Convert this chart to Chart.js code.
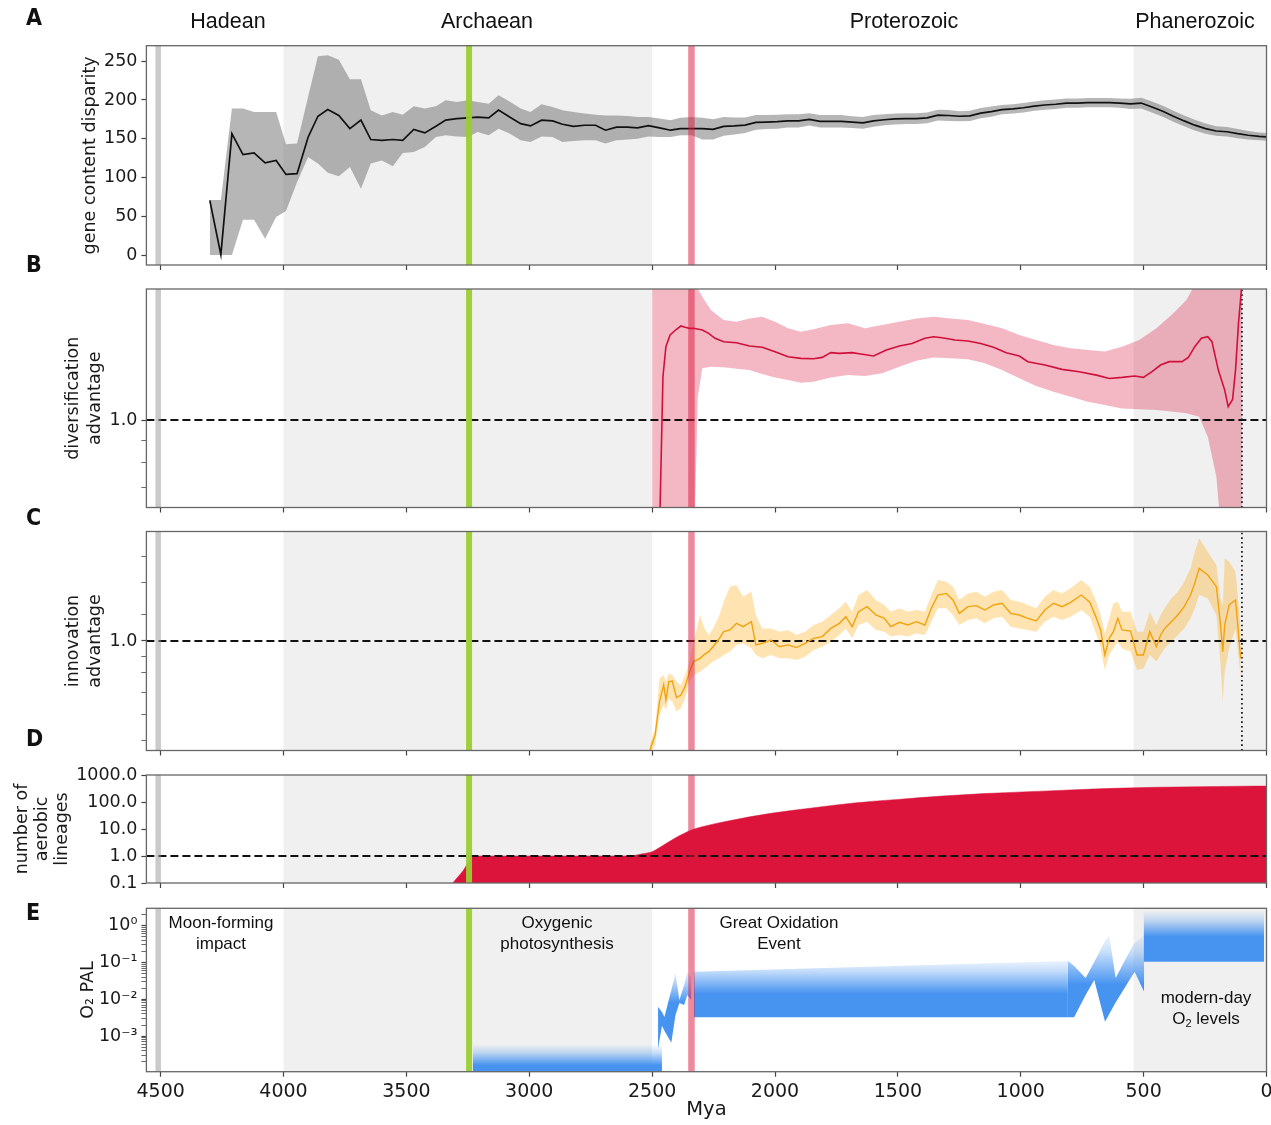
<!DOCTYPE html>
<html lang="en">
<head>
<meta charset="UTF-8">
<title>Aerobic lineages through Earth history</title>
<script src="https://cdn.jsdelivr.net/npm/chart.js"></script>
<style>
  body { margin: 0; background: #fff; }
  #page { position: relative; width: 1271px; height: 1125px; overflow: hidden;
          font-family: 'Liberation Sans', Arial, sans-serif; color: #111; }
  canvas { position: absolute; left: 0; }
  .era { position: absolute; top: 10.5px; font-size: 21.5px; line-height: 1; transform: translateX(-50%); white-space: nowrap; }
  .letter { position: absolute; left: 26px; font-family: 'Liberation Sans Narrow', 'DejaVu Sans Condensed', sans-serif;
            font-weight: bold; font-size: 23px; line-height: 1; }
  .note { position: absolute; font-size: 17px; line-height: 21px; text-align: center; transform: translateX(-50%); white-space: nowrap; }
  .note sub { font-size: 11px; vertical-align: -3px; line-height: 0; }
</style>
</head>
<body>
<div id="page">
  <canvas id="cA" width="1271" height="275" style="top:0px"></canvas>
  <canvas id="cB" width="1271" height="242" style="top:276px"></canvas>
  <canvas id="cC" width="1271" height="242" style="top:519px"></canvas>
  <canvas id="cD" width="1271" height="132" style="top:762px"></canvas>
  <canvas id="cE" width="1271" height="230" style="top:895px"></canvas>

  <div class="era" style="left:228px">Hadean</div>
  <div class="era" style="left:487px">Archaean</div>
  <div class="era" style="left:904px">Proterozoic</div>
  <div class="era" style="left:1195px">Phanerozoic</div>

  <div class="letter" style="top:5.5px">A</div>
  <div class="letter" style="top:253px">B</div>
  <div class="letter" style="top:505.8px">C</div>
  <div class="letter" style="top:726.8px">D</div>
  <div class="letter" style="top:900.5px">E</div>

  <div class="note" style="left:221px; top:912px">Moon-forming<br>impact</div>
  <div class="note" style="left:557px; top:912px">Oxygenic<br>photosynthesis</div>
  <div class="note" style="left:779px; top:912px">Great Oxidation<br>Event</div>
  <div class="note" style="left:1206px; top:987px">modern-day<br>O<sub>2</sub> levels</div>
</div>

<script>
// ---- shared time axis (million years ago) ----
const X_MAX = 4558;
const xTicks = [4500, 4000, 3500, 3000, 2500, 2000, 1500, 1000, 500, 0];
const shadeFrom = [4000, 541];
const shadeTo = [2500, 0];
const eventMya = [4510, 3245, 2340];           // moon-forming impact, oxygenic photosynthesis, GOE
const refLevel = 1.0;
const cutoffMya = 100;

// ---- A: gene content disparity ----
const aMya = [4300,4255,4210,4165,4120,4075,4030,3990,3945,3900,3860,3820,3775,3730,3685,3645,3600,3555,3515,3470,
  3425,3380,3340,3295,3250,3210,3165,3125,3080,3035,2995,2950,2905,2865,2820,2775,2730,2690,2645,2600,2560,2515,2470,
  2425,2385,2340,2296,2252,2209,2165,2122,2078,2035,1991,1947,1904,1860,1817,1773,1730,1686,1642,1599,1555,1512,1468,
  1425,1381,1337,1294,1250,1207,1163,1120,1076,1032,989,945,902,858,814,771,727,684,640,597,553,510,466,422,379,335,
  292,248,205,161,117,74,30,0];
const aMean = [70.6,0.5,156.6,129.5,131.7,118.8,122,104,105,152,179,187.6,180,163,174,149,148,149,148,162,
  157.5,166,174,176,177,178,177,187,178,169.5,166.5,174,173,168.7,166,167.4,167.4,161,165,165,164,167,164,
  161,163,163,163,162,166,166.5,167.5,171,171.5,172,173,173,175,172.5,172.5,172.5,171.5,170.5,173,174.5,175.5,176,
  176,177,180.5,180,179,179.5,183,185,187.5,188.5,190,192,193.5,194.5,196,196,196.5,196.5,196.5,196,195,196,191,185.5,179,173,
  167.5,163,160,159,156.5,154.5,153,152.5];
const aUpper = [71,71,189,189,184.6,184.6,184.6,143,143.7,204,256.5,257.7,252,226.8,226.8,186.7,180,184.6,181,192,
  189,192,199.7,197.5,199.7,197.5,195,206,198,189,184.6,194.5,191,186.7,184.6,182.4,181,180,180,179.4,178,178,176,
  174,177,178,177,175,178,177.5,177.5,180.5,180.5,181,181.5,181.5,183,180.5,180.5,180.5,179,178,180.5,181.5,182.5,183,
  183,184,187.5,187,185.5,186,189.5,191.5,193.5,194.5,196,198,199.5,200.5,202,202,202.5,202.5,202.5,202,201.5,203,198,192.5,186,180,
  174.5,169.5,166,165,162.5,160,158,157.5];
const aLower = [0,0,0,45.6,45.6,21,49,56.8,94,126.5,118,106,101.5,113.6,85.6,118,122,114.5,131.7,133,
  139.4,152.3,154.5,153,152.3,158.8,154.5,163,156.6,148,145.9,153,152.3,145.9,147,148,148,143.7,148,149,150,153,152.3,
  152.3,154.5,154.5,149,149,154,155.5,157.5,161.5,162.5,163,164.5,164.5,167,164.5,164.5,164.5,164,163,165.5,167.5,168.5,169,
  169,170,173.5,173,172.5,173,176.5,178.5,181.5,182.5,184,186,187.5,188.5,190,190,190.5,190.5,190.5,190,188.5,189,184,178.5,172,166,
  160.5,156.5,154,153,150.5,149,148,147.5];
const aTicks = [0, 50, 100, 150, 200, 250];

// ---- B: diversification advantage ----
const bMya = [2470,2456,2444,2427,2401,2383,2366,2348,2331,2296,2270,2244,2209,2157,2104,2052,2000,1947,1895,1843,
  1808,1773,1738,1686,1651,1599,1547,1494,1442,1390,1355,1320,1268,1215,1163,1111,1059,1006,971,902,832,762,692,640,
  588,536,501,466,431,396,344,318,292,265,239,222,196,170,156,138,126,114,100];
const bMean = [0.55,1.256,1.472,1.565,1.613,1.641,1.63,1.621,1.621,1.607,1.579,1.538,1.511,1.503,1.477,1.467,1.433,1.396,1.384,1.381,
  1.391,1.426,1.421,1.426,1.416,1.401,1.446,1.477,1.497,1.538,1.551,1.543,1.524,1.516,1.497,1.467,1.426,1.401,1.36,1.336,1.306,1.29,1.267,1.245,
  1.252,1.261,1.252,1.29,1.336,1.36,1.36,1.391,1.472,1.538,1.551,1.511,1.301,1.171,1.073,1.115,1.301,1.664,2.05];
const bBandMya = [2500,2470,2400,2330,2314,2296,2261,2209,2157,2104,2052,2000,1947,1895,1843,1773,1703,1634,1564,1494,
  1425,1355,1285,1215,1146,1076,1006,937,867,797,727,658,588,518,448,379,326,300,274,239,204,178,140,100];
const bUpper = [2.5,2.5,2.5,2.5,2.0,1.915,1.785,1.693,1.679,1.708,1.723,1.679,1.621,1.593,1.613,1.65,1.664,1.621,1.65,1.679,
  1.708,1.723,1.708,1.693,1.659,1.621,1.565,1.524,1.484,1.459,1.446,1.434,1.472,1.524,1.621,1.754,1.882,2.0,2.5,2.5,2.5,2.5,2.5,2.5];
const bLower = [0.5,0.5,0.5,0.5,1.131,1.313,1.324,1.32,1.31,1.301,1.274,1.252,1.235,1.217,1.224,1.252,1.268,1.261,1.279,1.324,
  1.367,1.391,1.384,1.377,1.348,1.301,1.246,1.196,1.161,1.131,1.101,1.082,1.063,1.058,1.054,1.045,1.036,1.027,1.018,0.916,0.742,0.5,0.5,0.5];
const bTicks = [0.7, 0.8, 0.9, 1.0];

// ---- C: innovation advantage ----
const cMya = [2509,2488,2470,2453,2444,2432,2418,2401,2383,2366,2348,2331,2305,2287,2270,2252,2226,2209,2183,2157,
  2130,2096,2078,2052,2017,1982,1947,1913,1878,1843,1808,1773,1738,1712,1686,1660,1625,1590,1555,1529,1494,1459,1425,
  1390,1364,1337,1303,1276,1250,1215,1181,1146,1111,1076,1041,1006,971,937,902,867,832,797,754,719,692,675,658,640,
  623,605,588,553,527,501,475,448,431,414,387,361,335,309,292,274,239,204,187,178,170,152,126,105];
const cMean = [0.467,0.519,0.655,0.736,0.663,0.753,0.756,0.673,0.686,0.727,0.807,0.866,0.886,0.911,0.928,0.961,1.019,1.067,1.080,1.131,
  1.105,1.144,0.973,0.984,1.007,0.961,0.973,0.955,0.984,1.019,1.031,1.092,1.131,1.185,1.105,1.227,1.271,1.199,1.171,1.105,1.139,1.118,1.144,
  1.118,1.256,1.378,1.394,1.331,1.213,1.271,1.280,1.241,1.286,1.301,1.213,1.199,1.171,1.150,1.241,1.301,1.271,1.310,1.378,1.310,1.171,1.080,0.907,1.019,
  1.067,1.171,1.080,1.072,0.907,0.907,1.067,0.961,1.043,1.092,1.144,1.199,1.271,1.378,1.495,1.660,1.585,1.461,1.118,0.928,1.118,1.286,1.331,0.886];
const cUpper = [0.484,0.544,0.771,0.789,0.753,0.798,0.789,0.753,0.736,0.789,0.866,0.995,1.199,1.092,1.043,1.092,1.199,1.316,1.461,1.478,
  1.362,1.411,1.199,1.092,1.092,1.067,1.080,1.043,1.067,1.118,1.144,1.199,1.256,1.316,1.227,1.378,1.427,1.331,1.286,1.227,1.256,1.227,1.241,
  1.227,1.378,1.531,1.513,1.461,1.331,1.394,1.411,1.362,1.411,1.427,1.331,1.316,1.286,1.256,1.362,1.427,1.394,1.444,1.531,1.461,1.316,1.199,1.055,1.171,
  1.301,1.316,1.227,1.227,1.067,1.067,1.227,1.118,1.199,1.256,1.347,1.411,1.513,1.660,1.865,2.047,1.865,1.699,1.347,1.286,1.780,1.739,1.622,1.092];
const cLower = [0.451,0.484,0.597,0.640,0.618,0.670,0.655,0.611,0.625,0.670,0.753,0.789,0.807,0.826,0.846,0.866,0.886,0.907,0.928,0.973,
  0.984,0.950,0.907,0.886,0.907,0.886,0.886,0.876,0.896,0.939,0.961,0.995,1.043,1.092,1.019,1.118,1.144,1.080,1.067,1.031,1.043,1.031,1.055,
  1.043,1.144,1.256,1.256,1.199,1.118,1.158,1.171,1.131,1.171,1.185,1.105,1.092,1.080,1.067,1.144,1.185,1.158,1.185,1.241,1.185,1.043,0.950,0.817,0.907,
  0.950,0.995,0.950,0.928,0.817,0.826,0.907,0.866,0.907,0.950,0.995,1.043,1.092,1.171,1.256,1.378,1.347,1.199,0.846,0.655,0.807,0.950,1.092,0.771];
const cTicks = [0.5, 0.6, 0.7, 0.8, 0.9, 1.0, 1.2, 1.5, 1.8];

// ---- D: number of aerobic lineages ----
const dMya = [3311,3290,3270,3257,3245,3233,3000,2700,2600,2575,2540,2500,2453,2401,2340,2296,2191,2017,1850,1669,
  1500,1320,1150,971,800,623,450,274,100,0];
const dLineages = [0.1,0.17,0.28,0.43,0.65,1.0,1.0,1.0,1.01,1.04,1.2,1.45,2.55,4.9,9.2,12.2,19.8,38,60,94,
  125,166,205,240,280,321,350,369,385,389];
const dTicks = [0.1, 1, 10, 100, 1000];

// ---- E: atmospheric O2 (present atmospheric level) ----
const eArchMya = [3230, 2460];
const eArchTop = [5.7e-4, 5.7e-4];
const eArchBottom = [1e-4, 1e-4];
const eEarlyMya = [2476, 2460, 2450, 2422, 2405, 2389, 2370, 2357, 2340];
const eEarlyTop = [6.18e-3, 4.52e-3, 3.30e-3, 0.0179, 0.0519, 9.57e-3, 0.0245, 0.0552, 0.0379];
const eEarlyBottom = [4.52e-4, 1.91e-3, 1.39e-3, 6.58e-4, 3.74e-3, 7.93e-3, 7.0e-3, 0.0131, 9.57e-3];
const eGoeMya = [2330, 808];
const eGoeTop = [0.0562, 0.110];
const eGoeBottom = [3.24e-3, 3.24e-3];
const eLateMya = [808, 783, 736, 701, 657, 640, 614, 545, 536, 498];
const eLateTop = [0.110, 0.0804, 0.0379, 0.103, 0.384, 0.559, 0.0379, 0.281, 0.339, 0.559];
const eLateBottom = [3.24e-3, 3.24e-3, 0.0131, 0.0334, 2.46e-3, 3.99e-3, 8.18e-3, 0.0457, 0.0552, 0.0161];
const eModMya = [500, 10];
const eModTop = [2.4, 2.4];
const eModBottom = [0.105, 0.105];
const eMajorTicks = [1, 0.1, 0.01, 0.001];
const eTickLabels = ['10\u2070', '10\u207B\u00B9', '10\u207B\u00B2', '10\u207B\u00B3'];

// ---- styling / layout ----
const LEFT = 146.4;
const RIGHT_PAD = 4.5;
const eventColor = ['rgba(150,150,150,0.5)', 'rgba(154,205,50,0.95)', 'rgba(220,20,60,0.5)'];
const eventWidth = [5.5, 6, 6.5];
const BLUE = '70,147,240';
const NONE = 'rgba(0,0,0,0)';

Chart.defaults.font.family = "'DejaVu Sans', sans-serif";
Chart.defaults.font.size = 17.5;
Chart.defaults.color = '#1a1a1a';
Chart.defaults.elements.point.radius = 0;
Chart.defaults.elements.line.tension = 0;

function pts(xs, ys) {
  return xs.map((x, i) => ({ x: x, y: ys[i] }));
}

// era shading, event lines and the box frame
const backdrop = {
  id: 'backdrop',
  beforeDatasetsDraw(chart) {
    const { ctx, chartArea: a, scales: { x } } = chart;
    ctx.save();
    ctx.fillStyle = '#f0f0f0';
    shadeFrom.forEach((m, i) => {
      const x0 = x.getPixelForValue(m), x1 = x.getPixelForValue(shadeTo[i]);
      ctx.fillRect(x0, a.top, x1 - x0, a.bottom - a.top);
    });
    ctx.restore();
  },
  afterDatasetsDraw(chart) {
    const { ctx, chartArea: a, scales: { x } } = chart;
    ctx.save();
    eventMya.forEach((m, i) => {
      const px = x.getPixelForValue(m);
      ctx.fillStyle = eventColor[i];
      ctx.fillRect(px - eventWidth[i] / 2, a.top, eventWidth[i], a.bottom - a.top);
    });
    ctx.restore();
  },
  afterDraw(chart) {
    const { ctx, chartArea: a } = chart;
    ctx.save();
    ctx.strokeStyle = '#666';
    ctx.lineWidth = 1.3;
    ctx.strokeRect(a.left, a.top, a.right - a.left, a.bottom - a.top);
    ctx.restore();
  }
};

function xAxis(height, showLabels) {
  return {
    type: 'linear', min: 0, max: X_MAX, reverse: true, bounds: 'data',
    afterBuildTicks: axis => { axis.ticks = xTicks.map(v => ({ value: v })); },
    afterFit: axis => { axis.height = height; axis.paddingLeft = 0; axis.paddingRight = 0; },
    grid: { drawOnChartArea: false, tickLength: 5, tickColor: '#444', tickWidth: 1.2 },
    border: { display: false },
    ticks: { display: showLabels, font: { size: 19 }, padding: 4, maxRotation: 0, autoSkip: false,
             callback: v => String(v) },
    title: { display: showLabels, text: 'Mya', font: { size: 19.5 }, padding: { top: 0, bottom: 3 } }
  };
}

function yAxis(o) {
  return {
    type: o.type, min: o.min, max: o.max, bounds: 'data',
    afterBuildTicks: axis => { axis.ticks = o.ticks.map(v => ({ value: v })); },
    afterFit: axis => { axis.width = LEFT; axis.paddingTop = 0; axis.paddingBottom = 0; },
    grid: {
      drawOnChartArea: false, tickLength: 5, tickColor: '#444',
      tickWidth: c => (c.tick && o.major.includes(c.tick.value)) ? 1.2 : 0.8
    },
    border: { display: false },
    ticks: { padding: 4, autoSkip: false, font: { size: 17.5 }, callback: v => o.label(v) },
    title: { display: true, text: o.title, font: { size: 17.5, lineHeight: o.lh }, padding: { top: o.tp, bottom: 0 } }
  };
}

function makeChart(id, padTop, xh, showX, y, datasets) {
  return new Chart(document.getElementById(id), {
    type: 'line',
    data: { datasets: datasets },
    options: {
      responsive: false, devicePixelRatio: 1, animation: false, events: [],
      layout: { padding: { top: padTop, left: 0, right: RIGHT_PAD, bottom: 0 } },
      plugins: { legend: { display: false }, tooltip: { enabled: false } },
      scales: { x: xAxis(xh, showX), y: yAxis(y) }
    },
    plugins: [backdrop]
  });
}

function refLine() {
  return { data: [{ x: X_MAX, y: refLevel }, { x: 0, y: refLevel }], borderColor: '#111', borderWidth: 2, borderDash: [8, 4] };
}
function cutoffLine(lo, hi) {
  return { data: [{ x: cutoffMya, y: lo }, { x: cutoffMya, y: hi }], borderColor: '#111', borderWidth: 1.7, borderDash: [1.6, 3] };
}
function band(xs, top, bottom, color) {
  return [
    { data: pts(xs, top), borderColor: NONE, borderWidth: 0, backgroundColor: color, fill: '+1' },
    { data: pts(xs, bottom), borderColor: NONE, borderWidth: 0, fill: false }
  ];
}

// blue ribbons that fade towards the top
function fadeFill(c) {
  const chart = c.chart;
  if (!chart.chartArea) return 'rgb(' + BLUE + ')';
  const y = chart.scales.y;
  const f = c.dataset.fade;
  const g = chart.ctx.createLinearGradient(0, y.getPixelForValue(f[0]), 0, y.getPixelForValue(f[1]));
  g.addColorStop(0, 'rgba(' + BLUE + ',0)');
  g.addColorStop(0.4, 'rgba(' + BLUE + ',0.3)');
  g.addColorStop(1, 'rgba(' + BLUE + ',1)');
  return g;
}
function o2Band(xs, top, bottom, fade) {
  const b = band(xs, top, bottom, fadeFill);
  b[0].fade = fade;
  return b;
}

// A
makeChart('cA', 45.7, 10, false,
  { type: 'linear', min: -12.85, max: 270, ticks: aTicks, major: aTicks, label: v => String(v),
    title: 'gene content disparity', lh: 1.2, tp: 80 },
  [{ data: pts(aMya, aMean), borderColor: '#111', borderWidth: 1.7 }]
    .concat(band(aMya, aUpper, aLower, 'rgba(110,110,110,0.5)')));

// B
makeChart('cB', 13, 10.5, false,
  { type: 'logarithmic', min: 0.631, max: 1.994, ticks: bTicks, major: [1], label: v => (v === 1 ? '1.0' : ''),
    title: ['diversification', 'advantage'], lh: 1.28, tp: 61.8 },
  [{ data: pts(bMya, bMean), borderColor: '#d0103a', borderWidth: 1.6 }, refLine(), cutoffLine(0.631, 1.994)]
    .concat(band(bBandMya, bUpper, bLower, 'rgba(220,20,60,0.3)')));

// C
makeChart('cC', 12.5, 10.5, false,
  { type: 'logarithmic', min: 0.4657, max: 2.147, ticks: cTicks, major: [1], label: v => (v === 1 ? '1.0' : ''),
    title: ['innovation', 'advantage'], lh: 1.28, tp: 61.8 },
  [{ data: pts(cMya, cMean), borderColor: '#f2a20c', borderWidth: 1.4 }, refLine(), cutoffLine(0.4657, 2.147)]
    .concat(band(cMya, cUpper, cLower, 'rgba(255,165,0,0.3)')));

// D
makeChart('cD', 13, 11, false,
  { type: 'logarithmic', min: 0.1, max: 1000, ticks: dTicks, major: dTicks, label: v => v.toFixed(1),
    title: ['number of', 'aerobic', 'lineages'], lh: 1.15, tp: 12 },
  [refLine(),
   { data: pts(dMya, dLineages), borderColor: '#dc143c', borderWidth: 0.5, backgroundColor: '#dc143c',
     fill: 'start', cubicInterpolationMode: 'monotone' }]);

// E
const eTicks = eMajorTicks.slice();
[-4, -3, -2, -1, 0].forEach(k => {
  for (let m = 2; m <= 9; m++) {
    const v = m * Math.pow(10, k);
    if (v > 1.08e-4 && v < 2.97) eTicks.push(v);
  }
});
makeChart('cE', 13.3, 53.3, true,
  { type: 'logarithmic', min: 1.08e-4, max: 2.97, ticks: eTicks, major: eMajorTicks,
    label: v => { const i = eMajorTicks.indexOf(v); return i >= 0 ? eTickLabels[i] : ''; },
    title: 'O\u2082 PAL', lh: 1.2, tp: 77.5 },
  [].concat(
    o2Band(eModMya, eModTop, eModBottom, [2.6, 0.5]),
    o2Band(eGoeMya, eGoeTop, eGoeBottom, [0.16, 0.014]),
    o2Band(eLateMya, eLateTop, eLateBottom, [0.75, 0.025]),
    o2Band(eEarlyMya, eEarlyTop, eEarlyBottom, [0.09, 0.008]),
    o2Band(eArchMya, eArchTop, eArchBottom, [6e-4, 1.6e-4])
  ));
</script>
</body>
</html>
